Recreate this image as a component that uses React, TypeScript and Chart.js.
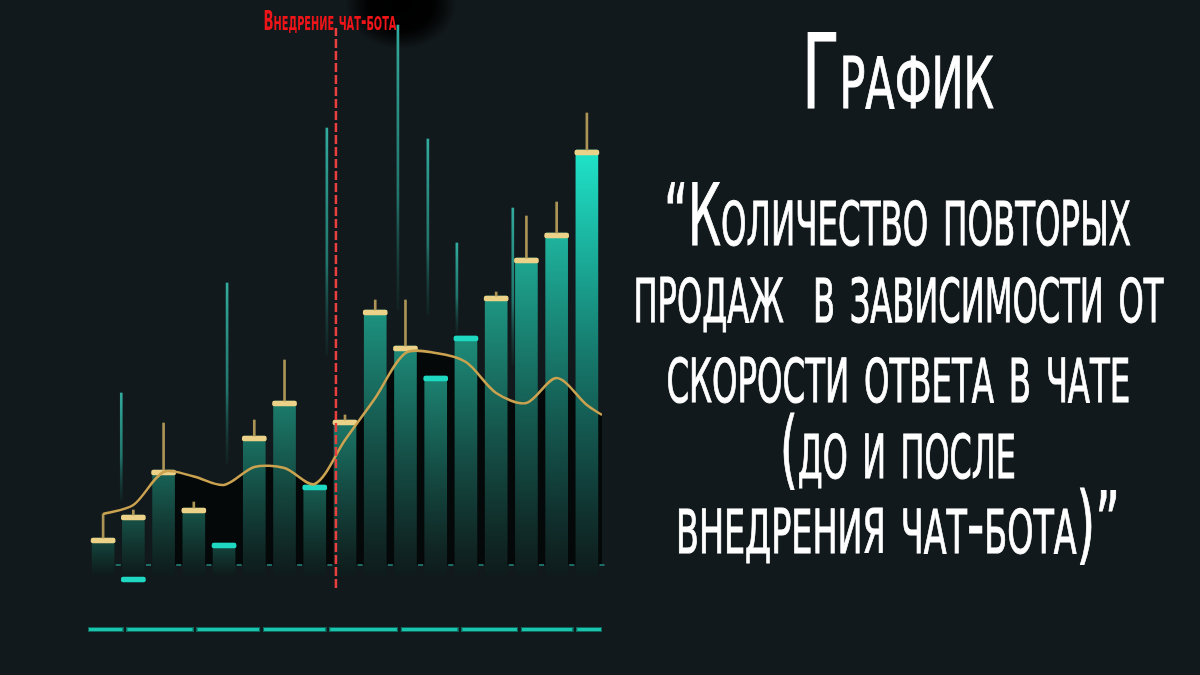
import React, { useEffect, useLayoutEffect, useRef, useState } from 'react';
import { Chart, registerables } from 'chart.js';

Chart.register(...registerables);

// ---------- data ----------
const barValues = [5.4, 10, 19, 11.4, 4.4, 25.8, 32.8, 16, 29, 51, 43.8, 37.8, 45.8, 53.8, 61.4, 66.4, 83];
const barBase = -2;
const tealCapBars = [4, 7, 11, 12];
const dipBar = 1;
const dipValue = -2.4;
const wickTops: (number | null)[] = [10.2, 11, 28.4, 12.6, null, 29, 41, null, 30, 53, 53, null, null, 54.6, 69.8, 72.6, 90.4];
const spikeX = [0.6, 4.1, 7.4, 9.75, 10.74, 11.7, 13.55];
const spikeLow = [13, 20.4, 42, 51, 50, 46.4, 40];
const spikeHigh = [34.4, 56.4, 87.4, 108, 85.2, 64.4, 71.4];
const trendValues = [10.2, 12, 18.6, 17.7, 16, 19.6, 19.4, 16.2, 25, 33.4, 42.4, 42.4, 40.6, 34.4, 32.4, 37.4, 32];
const trendEnd = 30;
const darkFillFrom = 2;
const launchX = 7.7;
const launchRange = [-4.6, 107.4];
const launchLabel = 'Внедрение чат-бота';
const sliderBreaks = [0.72, 3.04, 5.24, 7.43, 9.8, 11.8, 13.77, 15.6];
const blobPos = { x: 9.85, y: 112 };
const titleLines = [
  'График',
  '“Количество повторых',
  'продаж  в зависимости от',
  'скорости ответа в чате',
  '(до и после',
  'внедрения чат-бота)”',
];

// ---------- styling helpers ----------
const BG = '#12191c';
const FONT = '"Liberation Sans Narrow", "DejaVu Sans Condensed", "Roboto", sans-serif';
const X_MIN = -0.5;
const X_MAX = 16.5;
const capH = 1;

type RGB = [number, number, number];
const hex = (h: string): RGB => {
  const n = parseInt(h.slice(1), 16);
  return [(n >> 16) & 255, (n >> 8) & 255, n & 255];
};
const mixRGB = (a: RGB, b: RGB, t: number): RGB =>
  [0, 1, 2].map((i) => Math.round(a[i] + (b[i] - a[i]) * t)) as RGB;
const css = (c: RGB, a = 1) => `rgba(${c[0]},${c[1]},${c[2]},${a})`;

const paletteStops = [0, 0.35, 0.7, 1];
const paletteCols = ['#134139', '#1b7868', '#1e9c88', '#1fe4c9'].map(hex);
const topColor = (t: number): RGB => {
  const tt = Math.max(0, Math.min(1, t));
  for (let i = 1; i < paletteStops.length; i++) {
    if (tt <= paletteStops[i]) {
      const f = (tt - paletteStops[i - 1]) / (paletteStops[i] - paletteStops[i - 1]);
      return mixRGB(paletteCols[i - 1], paletteCols[i], f);
    }
  }
  return paletteCols[paletteCols.length - 1];
};
const DARK = hex('#0e1b1b');
const maxBar = Math.max(...barValues);

const barFill = (c: any) => {
  const chart = c.chart;
  const raw = c.raw;
  if (!chart.chartArea || !raw || !Array.isArray(raw.y)) return '#1b7868';
  const yS = chart.scales.y;
  const top = yS.getPixelForValue(raw.y[1]);
  const bot = yS.getPixelForValue(raw.y[0]);
  const tc = topColor(raw.y[1] / maxBar);
  const g = chart.ctx.createLinearGradient(0, top, 0, bot);
  g.addColorStop(0, css(tc));
  g.addColorStop(0.5, css(mixRGB(tc, DARK, 0.55)));
  g.addColorStop(0.85, css(mixRGB(tc, DARK, 0.88)));
  g.addColorStop(1, css(DARK));
  return g;
};

const spikeFill = (c: any) => {
  const chart = c.chart;
  const raw = c.raw;
  if (!chart.chartArea || !raw || !Array.isArray(raw.y)) return '#2a9d90';
  const yS = chart.scales.y;
  const top = yS.getPixelForValue(raw.y[1]);
  const bot = yS.getPixelForValue(raw.y[0]);
  const g = chart.ctx.createLinearGradient(0, top, 0, bot);
  g.addColorStop(0, 'rgba(52,180,166,0.95)');
  g.addColorStop(0.6, 'rgba(38,140,128,0.8)');
  g.addColorStop(1, 'rgba(20,70,64,0.2)');
  return g;
};

// measure a string drawn in synthesized small caps (lowercase -> smaller capitals)
const smallCapsParts = (ctx: CanvasRenderingContext2D, text: string, size: number, weight: string) => {
  const parts = Array.from(text).map((ch) => {
    const lower = ch !== ch.toUpperCase();
    return { g: ch.toUpperCase(), s: lower ? size * 0.74 : size };
  });
  let total = 0;
  const widths = parts.map((p) => {
    ctx.font = `${weight} ${p.s}px ${FONT}`;
    const w = ctx.measureText(p.g).width;
    total += w;
    return w;
  });
  return { parts, widths, total };
};

const decorPlugin = {
  id: 'decor',
  beforeDatasetsDraw(chart: any) {
    const { ctx, scales } = chart;
    const bx = scales.x.getPixelForValue(blobPos.x);
    const by = scales.y.getPixelForValue(blobPos.y);
    ctx.save();
    ctx.translate(bx, by);
    ctx.scale(1.25, 1);
    const g = ctx.createRadialGradient(0, 0, 0, 0, 0, 44);
    g.addColorStop(0, 'rgba(0,0,0,0.98)');
    g.addColorStop(0.6, 'rgba(0,0,0,0.92)');
    g.addColorStop(0.82, 'rgba(0,0,0,0.45)');
    g.addColorStop(1, 'rgba(0,0,0,0)');
    ctx.fillStyle = g;
    ctx.beginPath();
    ctx.arc(0, 0, 44, 0, Math.PI * 2);
    ctx.fill();
    ctx.restore();
  },
  afterDatasetsDraw(chart: any) {
    const { ctx, scales, chartArea } = chart;
    const x = scales.x;
    const y = scales.y;
    ctx.save();
    // baseline dashes at category boundaries
    const y0 = y.getPixelForValue(0);
    ctx.fillStyle = '#1d6d64';
    for (let k = 1; k <= barValues.length; k++) {
      const px = x.getPixelForValue(k - 0.5);
      ctx.fillRect(px - 2.5, y0 - 1, 5, 2);
    }
    ctx.restore();

    // launch label
    ctx.save();
    const lx = x.getPixelForValue(launchX) - 6;
    const ly = y.getPixelForValue(launchRange[1]) + 2;
    const { parts, widths, total } = smallCapsParts(ctx, launchLabel, 26, 'bold');
    const targetW = 133;
    const k = targetW / (total || 1);
    ctx.translate(lx - targetW / 2, ly);
    ctx.scale(k, 1);
    ctx.textAlign = 'left';
    ctx.textBaseline = 'alphabetic';
    ctx.fillStyle = '#ee1418';
    let cx = 0;
    parts.forEach((p, i) => {
      ctx.font = `bold ${p.s}px ${FONT}`;
      ctx.fillText(p.g, cx, 0);
      cx += widths[i];
    });
    ctx.restore();

    // bottom segmented strip
    ctx.save();
    const edges = [X_MIN, ...sliderBreaks, X_MAX];
    const sy = chartArea.bottom + 37;
    for (let j = 0; j < edges.length - 1; j++) {
      const x1 = x.getPixelForValue(edges[j]) + (j > 0 ? 1.5 : 0);
      const x2 = x.getPixelForValue(edges[j + 1]) - (j < edges.length - 2 ? 1.5 : 0);
      ctx.fillStyle = '#19c6ad';
      ctx.fillRect(x1, sy, x2 - x1, 5);
      ctx.strokeStyle = 'rgba(10,90,80,0.9)';
      ctx.lineWidth = 1;
      ctx.strokeRect(x1 + 0.5, sy + 0.5, x2 - x1 - 1, 4);
    }
    ctx.restore();
  },
};

const TITLE_CX = 898;
const TITLE_BOX = 1600;

function TitleLine({ text, top, size, width }: { text: string; top: number; size: number; width: number }) {
  const ref = useRef<HTMLSpanElement>(null);
  const [k, setK] = useState(1);
  useLayoutEffect(() => {
    const measure = () => {
      if (ref.current) {
        const w = ref.current.offsetWidth;
        if (w) setK(width / w);
      }
    };
    measure();
    if ((document as any).fonts && (document as any).fonts.ready) {
      (document as any).fonts.ready.then(measure);
    }
  }, [text, width]);
  return (
    <div
      style={{
        position: 'absolute',
        left: TITLE_CX - TITLE_BOX / 2,
        width: TITLE_BOX,
        top,
        textAlign: 'center',
        whiteSpace: 'pre',
        fontFamily: FONT,
        fontVariant: 'small-caps',
        fontSize: size,
        lineHeight: `${size}px`,
        color: '#ffffff',
        WebkitTextStroke: '1px #ffffff',
      }}
    >
      <span ref={ref} style={{ display: 'inline-block', transform: `scaleX(${k})`, transformOrigin: 'center' }}>
        {text}
      </span>
    </div>
  );
}

export default function App() {
  const canvasRef = useRef<HTMLCanvasElement>(null);

  useEffect(() => {
    const canvas = canvasRef.current;
    if (!canvas) return;

    const bars = barValues.map((v, i) => ({ x: i, y: [barBase, v] }));
    const goldCaps = barValues
      .map((v, i) => (tealCapBars.includes(i) ? null : { x: i, y: [v - capH, v] }))
      .filter(Boolean);
    const tealCaps = [
      ...tealCapBars.map((i) => ({ x: i, y: [barValues[i] - capH, barValues[i]] })),
      { x: dipBar, y: [dipValue - capH, dipValue] },
    ].sort((a, b) => a.x - b.x);
    const wicks = wickTops
      .map((t, i) => (t == null ? null : { x: i, y: [barValues[i], t] }))
      .filter(Boolean);
    const spikes = spikeX.map((sx, i) => ({ x: sx, y: [spikeLow[i], spikeHigh[i]] }));
    const trend = [...trendValues.map((v, i) => ({ x: i, y: v })), { x: X_MAX, y: trendEnd }];
    const fillPts = trend.filter((p) => p.x >= darkFillFrom);

    const common = { stack: 'all', grouped: true, borderSkipped: false };

    const chart = new Chart(canvas, {
      type: 'bar',
      data: {
        datasets: [
          {
            type: 'line',
            label: 'launch',
            data: [
              { x: launchX, y: launchRange[0] },
              { x: launchX, y: launchRange[1] },
            ],
            borderColor: '#e8403f',
            borderWidth: 2.5,
            borderDash: [9, 3],
            pointRadius: 0,
            fill: false,
            order: 0,
          } as any,
          {
            type: 'line',
            label: 'trend',
            data: trend,
            borderColor: '#caa250',
            borderWidth: 2.5,
            tension: 0.3,
            pointRadius: 0,
            fill: false,
            order: 1,
          } as any,
          {
            ...common,
            label: 'wicks',
            data: wicks,
            backgroundColor: '#ab9456',
            barThickness: 2,
            order: 2,
          } as any,
          {
            ...common,
            label: 'goldCaps',
            data: goldCaps,
            backgroundColor: '#ecd288',
            barThickness: 24,
            borderRadius: 2,
            order: 3,
          } as any,
          {
            ...common,
            label: 'tealCaps',
            data: tealCaps,
            backgroundColor: '#1fd8c1',
            barThickness: 24,
            borderRadius: 2,
            order: 3,
          } as any,
          {
            ...common,
            label: 'sales',
            data: bars,
            backgroundColor: barFill,
            barThickness: 22,
            borderRadius: 1,
            order: 4,
          } as any,
          {
            ...common,
            label: 'spikes',
            data: spikes,
            backgroundColor: spikeFill,
            barThickness: 2,
            order: 5,
          } as any,
          {
            type: 'line',
            label: 'shade',
            data: fillPts,
            borderWidth: 0,
            borderColor: 'rgba(0,0,0,0)',
            backgroundColor: '#040808',
            tension: 0.3,
            pointRadius: 0,
            fill: 'origin',
            order: 6,
          } as any,
        ],
      },
      options: {
        animation: false,
        responsive: false,
        events: [],
        layout: { padding: { left: 88, right: 598, top: 15, bottom: 85 } },
        plugins: { legend: { display: false }, tooltip: { enabled: false }, title: { display: false } },
        scales: {
          x: { type: 'linear', min: X_MIN, max: X_MAX, display: false, offset: false, grid: { offset: false } },
          y: { type: 'linear', min: -5, max: 110, display: false, stacked: false },
        },
      } as any,
      plugins: [decorPlugin],
    });

    return () => chart.destroy();
  }, []);

  const lineSpecs = [
    { size: 103, baseline: 108, width: 192 },
    { size: 86, baseline: 245, width: 467 },
    { size: 86, baseline: 322, width: 530 },
    { size: 86, baseline: 402, width: 464 },
    { size: 86, baseline: 478, width: 236 },
    { size: 86, baseline: 553, width: 444 },
  ];

  return (
    <div style={{ position: 'fixed', left: 0, top: 0, width: 1200, height: 675, background: BG, overflow: 'hidden' }}>
      <canvas ref={canvasRef} width={1200} height={675} style={{ position: 'absolute', left: 0, top: 0 }} />
      {titleLines.map((t, i) => (
        <TitleLine
          key={i}
          text={t}
          size={lineSpecs[i].size}
          top={lineSpecs[i].baseline - lineSpecs[i].size * 0.8465}
          width={lineSpecs[i].width}
        />
      ))}
    </div>
  );
}
